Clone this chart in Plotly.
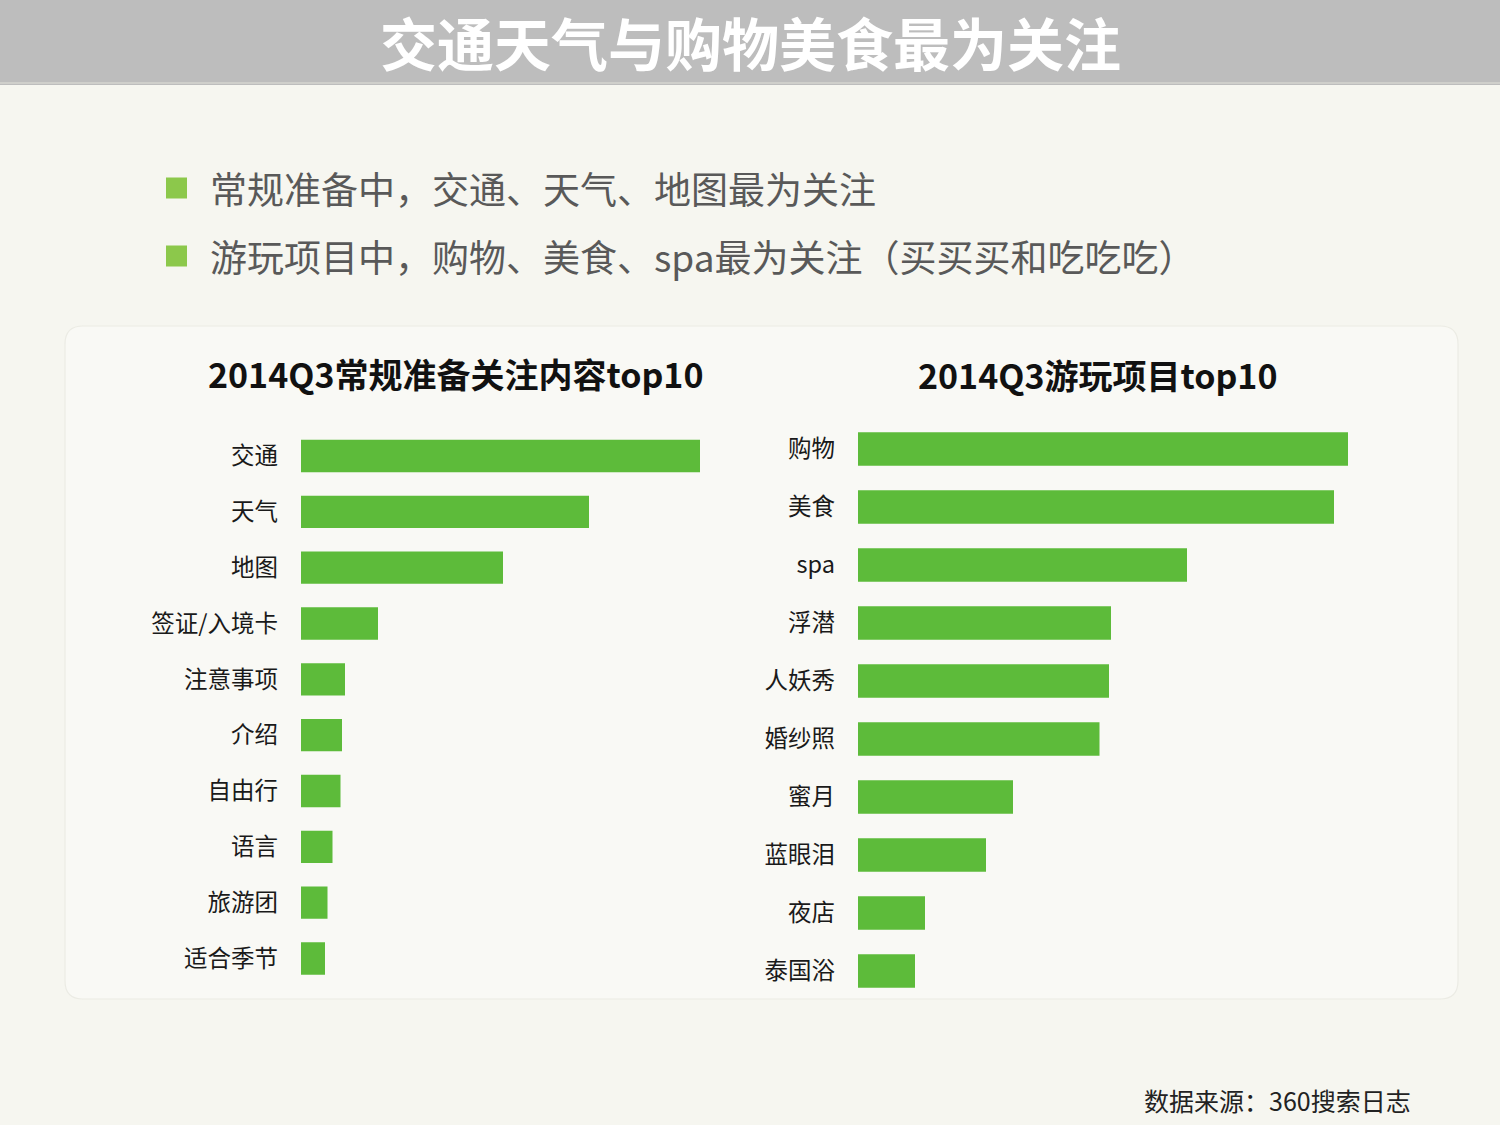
import plotly.graph_objects as go

# 常规准备关注内容 top10 (bar lengths, arbitrary units)
prep_items = ["交通", "天气", "地图", "签证/入境卡", "注意事项", "介绍", "自由行", "语言", "旅游团", "适合季节"]
prep_values = [399, 288, 202, 77, 44, 41, 39.5, 31.5, 26.5, 24]

# 游玩项目 top10
play_items = ["购物", "美食", "spa", "浮潜", "人妖秀", "婚纱照", "蜜月", "蓝眼泪", "夜店", "泰国浴"]
play_values = [490, 476, 329, 253, 251, 241.5, 155, 128, 67, 57]

header = "交通天气与购物美食最为关注"
bullets = ["常规准备中，交通、天气、地图最为关注",
           "游玩项目中，购物、美食、spa最为关注（买买买和吃吃吃）"]
title_left = "2014Q3常规准备关注内容top10"
title_right = "2014Q3游玩项目top10"
source = "数据来源：360搜索日志"

W, H = 1500, 1125
FONT = "Noto Sans CJK SC"
GREEN = "#5dbb3a"


def px(x):
    return x / W


def py(y):
    return 1 - y / H


fig = go.Figure()

fig.add_trace(go.Bar(x=prep_values, y=prep_items, orientation="h",
                     marker=dict(color=GREEN, line_width=0),
                     xaxis="x", yaxis="y", hoverinfo="x+y"))
fig.add_trace(go.Bar(x=play_values, y=play_items, orientation="h",
                     marker=dict(color=GREEN, line_width=0),
                     xaxis="x2", yaxis="y2", hoverinfo="x+y"))

tick_font = dict(family=FONT, size=23.5, color="#1a1a1a")

fig.update_layout(
    width=W, height=H,
    margin=dict(l=0, r=0, t=0, b=0),
    paper_bgcolor="#f6f6f0",
    plot_bgcolor="rgba(0,0,0,0)",
    showlegend=False,
    bargap=0.42,
    xaxis=dict(domain=[px(301), px(700)], range=[0, 399], visible=False, fixedrange=True),
    yaxis=dict(domain=[py(986.4), py(428.1)], range=[9.5, -0.5], type="category",
               categoryarray=prep_items, showgrid=False, zeroline=False, showline=False,
               ticks="", tickfont=tick_font, ticklabelstandoff=22, anchor="x"),
    xaxis2=dict(domain=[px(858), px(1348)], range=[0, 490], visible=False, fixedrange=True,
                anchor="y2"),
    yaxis2=dict(domain=[py(1000), py(420)], range=[9.5, -0.5], type="category",
                categoryarray=play_items, showgrid=False, zeroline=False, showline=False,
                ticks="", tickfont=tick_font, ticklabelstandoff=22, anchor="x2"),
)

shapes = [
    # header band
    dict(type="rect", xref="paper", yref="paper", x0=0, x1=1, y0=py(85), y1=1,
         fillcolor="#bdbdbd", line_width=0, layer="below"),
    dict(type="line", xref="paper", yref="paper", x0=0, x1=1, y0=py(83), y1=py(83),
         line=dict(color="#cfcfcb", width=2), layer="below"),
]

# rounded panel behind the two charts
x0, x1, y0, y1, r = px(65), px(1458), py(999), py(326), 18
rx, ry = r / W, r / H
panel = (f"M {x0 + rx},{y1} L {x1 - rx},{y1} Q {x1},{y1} {x1},{y1 - ry} "
         f"L {x1},{y0 + ry} Q {x1},{y0} {x1 - rx},{y0} L {x0 + rx},{y0} "
         f"Q {x0},{y0} {x0},{y0 + ry} L {x0},{y1 - ry} Q {x0},{y1} {x0 + rx},{y1} Z")
shapes.append(dict(type="path", xref="paper", yref="paper", path=panel,
                   fillcolor="#f9f9f5", line=dict(color="#ebebe4", width=1.2), layer="below"))

# bullet squares
for yc in [188, 256]:
    shapes.append(dict(type="rect", xref="paper", yref="paper",
                       x0=px(166), x1=px(187), y0=py(yc + 10.5), y1=py(yc - 10.5),
                       fillcolor="#8cc84b", line_width=0))

fig.update_layout(shapes=shapes)

ann = [
    dict(text=f"<b>{header}</b>", x=0.5, y=py(41), xanchor="center", yanchor="middle",
         font=dict(family=FONT, size=57, color="#ffffff")),
    dict(text=f"<b>{title_left}</b>", x=px(455), y=py(373), xanchor="center", yanchor="middle",
         font=dict(family=FONT, size=34, color="#111111")),
    dict(text=f"<b>{title_right}</b>", x=px(1097), y=py(375), xanchor="center", yanchor="middle",
         font=dict(family=FONT, size=34, color="#111111")),
    dict(text=source, x=px(1413), y=py(1100), xanchor="right", yanchor="middle",
         font=dict(family=FONT, size=25, color="#222222")),
]
for text, yc in zip(bullets, [188, 256]):
    ann.append(dict(text=text, x=px(208), y=py(yc), xanchor="left", yanchor="middle",
                    font=dict(family=FONT, size=37, color="#595959")))

for a in ann:
    a.update(xref="paper", yref="paper", showarrow=False)
fig.update_layout(annotations=ann)

# drop the browser's default page margin so the figure sits at 0,0
fig.write_html("out.html", config={"displayModeBar": False},
               post_script="document.body.style.margin='0';")
